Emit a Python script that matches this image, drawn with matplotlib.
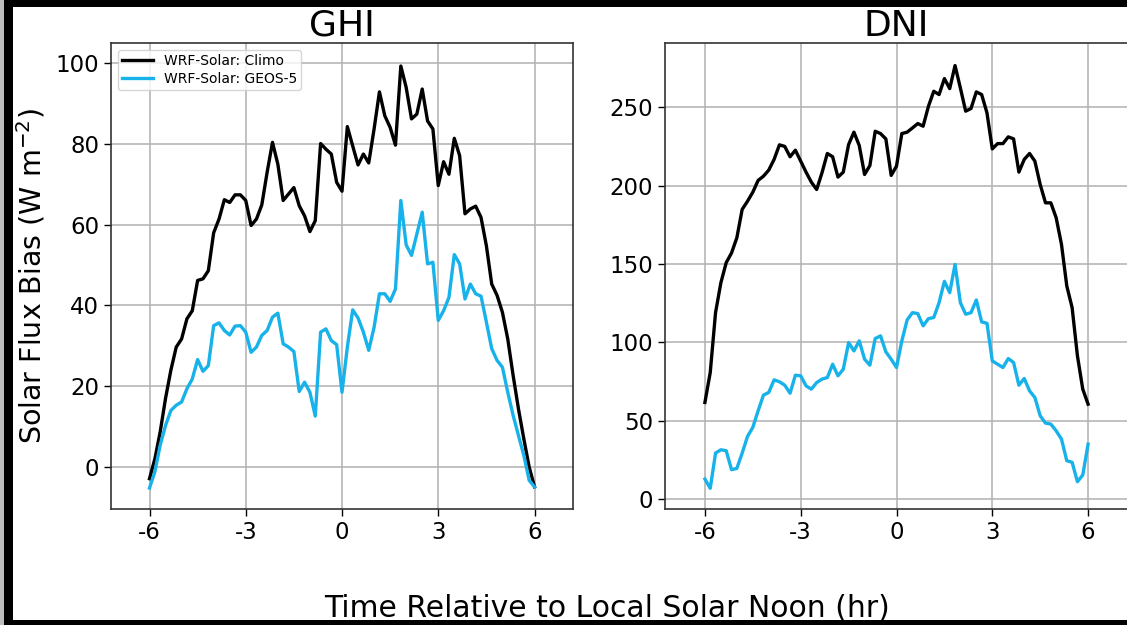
import numpy as np
import matplotlib.pyplot as plt
from matplotlib.patches import Rectangle

# time axis: every 10 minutes from -6 h to +6 h
hours = np.arange(-36, 37) / 6.0

ghi_climo = [-2.9, 2, 8.7, 17, 24, 29.7, 31.7, 36.7, 38.7, 46.2, 46.6, 48.6, 58, 61.4, 66.2, 65.5,
             67.4, 67.4, 66, 59.8, 61.4, 64.9, 73, 80.4, 75, 66, 67.6, 69.2, 64.7, 62.2, 58.3, 61,
             80.1, 78.7, 77.5, 70.5, 68.3,
             84.3, 79.5, 74.8, 77.5, 75.3, 83.7, 92.9, 87, 84.1, 79.7, 99.3, 94, 86.2, 87.4, 93.6,
             85.7, 83.7, 69.7, 75.6, 72.5, 81.4, 77.1, 62.7, 63.9, 64.6, 61.8, 54.8, 45.3, 42.5,
             38.3, 31.7, 22.7, 14.4, 7, 0, -4.9]
ghi_geos = [-5.2, -1.2, 5.4, 10.3, 14, 15.3, 16.1, 19.4, 21.8, 26.6, 23.7, 25.1, 35, 35.7, 33.8, 32.7,
            34.9, 35, 33.4, 28.4, 29.7, 32.6, 33.8, 37.1, 38.1, 30.5, 29.7, 28.6, 18.7, 21, 18.5, 12.6,
            33.4, 34.2, 31.3, 30.3, 18.5,
            29.7, 38.9, 36.9, 33.4, 28.9, 34.6, 42.9, 42.9, 41, 44.1, 66, 55, 52.4, 57.7, 63.1,
            50.3, 50.7, 36.3, 38.7, 42, 52.6, 50.3, 41.6, 45.3, 42.9, 42.3, 35.9, 29.3, 26.4,
            24.7, 18.5, 12.8, 7.8, 2.9, -3.3, -4.9]
dni_climo = [61.6, 80.7, 119, 138, 150.8, 157, 166.7, 184.8, 190, 195.8, 203.3, 206, 209.9, 216.7,
             226, 225, 218.4, 222.6, 215.6, 208.6, 202.2, 197.5, 208.2, 220.5, 218.4, 205.4, 208.6,
             226.2, 234.1, 225.6, 207.1, 212.8, 234.7, 233.2, 229.8, 206.5, 212.4,
             233.2, 234.1, 236.8, 239.6, 237.9, 250.6, 260.2, 258.1, 268.3, 261.9, 276.6, 262.3,
             247.5, 249.2, 259.8, 258.1, 246.4, 223.4, 226.8, 226.8, 231.1, 229.8, 208.6, 216.7,
             220.5, 215.6, 200.7, 189, 189, 179.5, 162.5, 135.9, 122.1, 91.3, 70.1, 60.5]
dni_geos = [12.7, 6.8, 29.3, 31.4, 30.8, 18.7, 19.5, 29.3, 39.9, 45.7, 56.3, 66.3, 68, 76, 74.8,
            72.6, 67.5, 79, 78.6, 72.2, 70.1, 74.3, 76.5, 77.5, 86, 78.6, 82.8, 99.8, 94.5, 100.9,
            89.2, 85.4, 102.4, 104.1, 93.9, 89.2, 83.9,
            100.9, 114.3, 118.9, 118.3, 110.5, 115.1, 115.8, 125.3, 138.9, 131.7, 149.7, 125.3,
            117.9, 118.9, 127, 113, 112.1, 88.1, 86, 83.9, 89.6, 87.1, 72.6, 76.9, 69, 64.8, 53.1,
            48.4, 47.8, 43.5, 38.2, 24.4, 23.4, 11, 15.3, 35]

xticks = [-6, -3, 0, 3, 6]
climo_color = 'black'
geos_color = '#17b2ea'

fig = plt.figure(figsize=(11.27, 6.25), dpi=100)
fig.patch.set_facecolor('black')
# white page with the screenshot edges around it
fig.patches.append(Rectangle((0, 0), 4 / 1127, 1, transform=fig.transFigure,
                             facecolor='#bdbdbd', edgecolor='none', zorder=-2))
fig.patches.append(Rectangle((13 / 1127, 5 / 625), 1, 1 - 12 / 625, transform=fig.transFigure,
                             facecolor='white', edgecolor='none', zorder=-1))

ax1 = fig.add_axes([111 / 1127, 1 - 509 / 625, 462 / 1127, 466 / 625])
ax2 = fig.add_axes([665 / 1127, 1 - 509 / 625, 463 / 1127, 466 / 625])

ax1.plot(hours, ghi_climo, color=climo_color, lw=2.4, label='WRF-Solar: Climo')
ax1.plot(hours, ghi_geos, color=geos_color, lw=2.4, label='WRF-Solar: GEOS-5')
ax2.plot(hours, dni_climo, color=climo_color, lw=2.4)
ax2.plot(hours, dni_geos, color=geos_color, lw=2.4)

ax1.set_xlim(-7.2, 7.2)
ax1.set_ylim(-10.4, 105)
ax1.set_yticks([0, 20, 40, 60, 80, 100])
ax2.set_xlim(-7.25, 7.25)
ax2.set_ylim(-6.4, 291)
ax2.set_yticks([0, 50, 100, 150, 200, 250])

for ax in (ax1, ax2):
    ax.set_xticks(xticks)
    ax.set_xticklabels([str(t) for t in xticks])
    ax.grid(True, color='#b0b0b0', lw=1.1)
    ax.tick_params(labelsize=16.5, length=5, width=1)
    for sp in ax.spines.values():
        sp.set_linewidth(1.2)
        sp.set_color('#333333')

ax1.set_title('GHI', fontsize=26, pad=4)
ax2.set_title('DNI', fontsize=26, pad=4)
ax1.set_ylabel('Solar Flux Bias (W m$^{-2}$)', fontsize=20.5, labelpad=6)
fig.text(0.539, 0.013, 'Time Relative to Local Solar Noon (hr)', ha='center', fontsize=21.5)

ax1.legend(loc='upper left', fontsize=10, handlelength=2.2, borderpad=0.3,
           labelspacing=0.25, framealpha=0.8)

plt.savefig('out.png', dpi=100, facecolor=fig.get_facecolor())
